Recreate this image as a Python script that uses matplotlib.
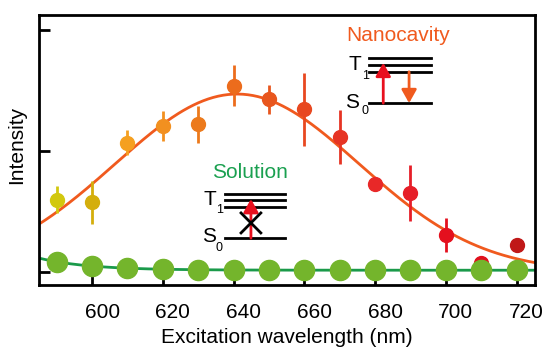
import numpy as np
import matplotlib
matplotlib.use("Agg")
import matplotlib.pyplot as plt
import matplotlib.transforms as mtransforms

plt.rcParams['font.family'] = ['Liberation Sans', 'DejaVu Sans']

# nanocavity data
wl = [590, 600, 610, 620, 630, 640, 650, 660, 670, 680, 690, 700, 710, 720]
nano = [0.595, 0.573, 1.066, 1.203, 1.217, 1.535, 1.425, 1.342, 1.112, 0.72, 0.65, 0.305, 0.07, 0.22]
nano_err = [0.11, 0.18, 0.10, 0.125, 0.155, 0.17, 0.12, 0.30, 0.22, 0.0, 0.235, 0.14, 0.0, 0.0]
nano_colors = ['#d2c80e', '#d4ae0c', '#f5a020', '#f29020', '#ec7a1c', '#ec6c1c', '#e8561e',
               '#e84820', '#e63424', '#e82828', '#e61e28', '#e4101e', '#e0101c', '#c01818']

# solution data
sol = [0.083, 0.047, 0.033, 0.025, 0.016, 0.014, 0.012, 0.012, 0.012, 0.012, 0.012, 0.012, 0.012, 0.012]

# gaussian fit (nanocavity) and decay fit (solution)
g_amp, g_cen, g_sig = 1.467, 641.0, 34.5
d_base, d_amp, d_tau = 0.012, 0.10, 14.0

fig = plt.figure(figsize=(5.45, 3.47), dpi=100)
ax = fig.add_axes([0.0716, 0.1787, 0.9101, 0.7781])

xs = np.linspace(585, 725.2, 300)
ax.plot(xs, g_amp * np.exp(-(xs - g_cen) ** 2 / (2 * g_sig ** 2)), color='#f05a1e', lw=2, zorder=2)
ax.plot(xs, d_base + d_amp * np.exp(-(xs - 585) / d_tau), color='#1a9a4a', lw=2, zorder=2)

for x, y, e, c in zip(wl, nano, nano_err, nano_colors):
    ax.errorbar(x, y, yerr=e, fmt='o', color=c, ms=10, elinewidth=2, capsize=0, zorder=3)

ax.plot(wl, sol, 'o', color='#74b52c', ms=14.5, zorder=4)

ax.set_xlim(585, 725.2)
ax.set_ylim(-0.11, 2.12)
ax.set_xticks([600, 620, 640, 660, 680, 700, 720])
ax.set_yticks([0, 1, 2])
ax.set_yticklabels([])
ax.tick_params(direction='in', length=8, width=2, labelsize=15)
ax.tick_params(axis='x', pad=13)
for s in ax.spines.values():
    s.set_linewidth(2)
shift = mtransforms.ScaledTranslation(0.10, 0, fig.dpi_scale_trans)
for lab in ax.get_xticklabels():
    lab.set_transform(lab.get_transform() + shift)
ax.set_xlabel('Excitation wavelength (nm)', fontsize=15, labelpad=4)
ax.set_ylabel('Intensity', fontsize=15)
ax.yaxis.set_label_coords(-0.026, 0.52)

arrow_kw = dict(arrowstyle='-|>,head_width=0.45,head_length=0.8', lw=2, shrinkA=0, shrinkB=0)

# nanocavity energy diagram
ax.text(686.4, 1.95, 'Nanocavity', color='#f05a1e', fontsize=15, ha='center', va='center')
for ly in [1.763, 1.707, 1.651, 1.392]:
    ax.plot([678.3, 695.7], [ly, ly], color='black', lw=2, zorder=5)
ax.text(674.3, 1.707, 'T', fontsize=15, ha='center', va='center')
ax.text(677.3, 1.62, '1', fontsize=9, ha='center', va='center')
ax.text(673.6, 1.40, 'S', fontsize=15, ha='center', va='center')
ax.text(677.0, 1.33, '0', fontsize=9, ha='center', va='center')
ax.annotate('', xy=(682.3, 1.725), xytext=(682.3, 1.392),
            arrowprops=dict(color='#e8101e', **arrow_kw), zorder=6)
ax.annotate('', xy=(689.6, 1.392), xytext=(689.6, 1.651),
            arrowprops=dict(color='#f05a1e', **arrow_kw), zorder=6)

# solution energy diagram
ax.text(644.6, 0.817, 'Solution', color='#1aa050', fontsize=15, ha='center', va='center')
for ly in [0.645, 0.589, 0.534, 0.277]:
    ax.plot([637.5, 654.5], [ly, ly], color='black', lw=2, zorder=5)
ax.text(633.3, 0.595, 'T', fontsize=15, ha='center', va='center')
ax.text(636.0, 0.506, '1', fontsize=9, ha='center', va='center')
ax.text(633.0, 0.288, 'S', fontsize=15, ha='center', va='center')
ax.text(636.0, 0.197, '0', fontsize=9, ha='center', va='center')
ax.annotate('', xy=(644.9, 0.60), xytext=(644.9, 0.277),
            arrowprops=dict(color='#e8101e', **arrow_kw), zorder=6)
ax.plot([642.1, 647.7], [0.485, 0.32], color='black', lw=2, zorder=7)
ax.plot([642.1, 647.7], [0.32, 0.485], color='black', lw=2, zorder=7)

fig.savefig('out.png', dpi=100)
